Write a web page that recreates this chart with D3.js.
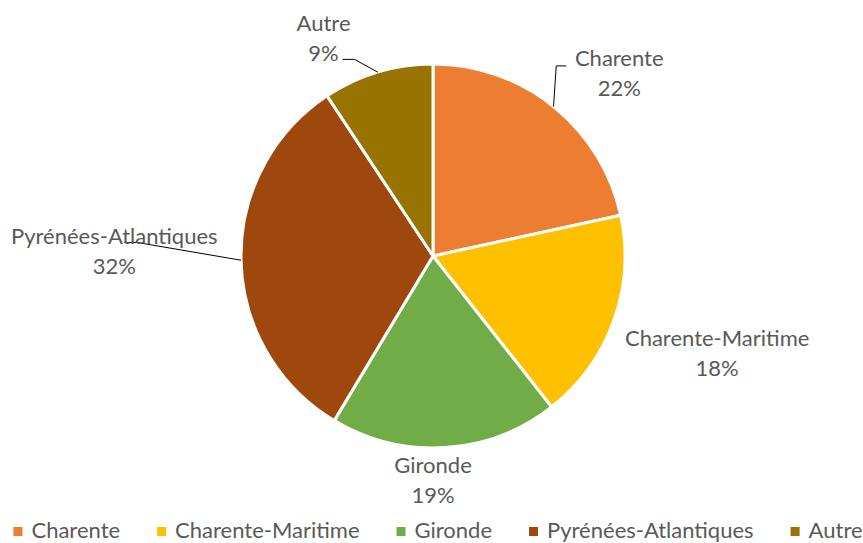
<!DOCTYPE html>
<html>
<head>
<meta charset="utf-8">
<script src="https://cdn.jsdelivr.net/npm/d3@7"></script>
<style>
  body { margin: 0; background: #fff; }
  svg { display: block; font-family: "Lato", "Open Sans", sans-serif; }
  .lbl, .leg { fill: #595959; font-size: 22px; }
</style>
</head>
<body>
<svg id="chart" width="863" height="543"></svg>
<script>
// data (shares in %, labels show them rounded)
const categories = ["Charente", "Charente-Maritime", "Gironde", "Pyrénées-Atlantiques", "Autre"];
const shares = [21.6, 17.8, 19.2, 32.1, 9.3];
const colors = ["#ED7D31", "#FFC000", "#70AD47", "#9E480E", "#997300"];

// label layout, in units of the pie radius (label centre, first baseline)
const labelPos = [[0.97, -0.99], [1.48, 0.47], [0, 1.13], [-1.66, -0.06], [-0.57, -1.17]];
// leader line: start offset from label anchor (px), horizontal run (px); null = no leader
const leaders = [[-53, 0, -10], null, null, [10, -2, 13], [19, 28, 12]];

const svg = d3.select("#chart");
const cx = 433, cy = 256, r = 192;

const pie = d3.pie().sort(null).value(d => d);
const arcs = pie(shares);
const arc = d3.arc().innerRadius(0).outerRadius(r);
const total = d3.sum(shares);

const g = svg.append("g").attr("transform", `translate(${cx},${cy})`);

g.selectAll("path.slice")
  .data(arcs)
  .enter().append("path")
  .attr("class", "slice")
  .attr("d", arc)
  .attr("fill", (d, i) => colors[i])
  .attr("stroke", "#fff")
  .attr("stroke-width", 3)
  .attr("stroke-linejoin", "round");

// leader lines
arcs.forEach((d, i) => {
  const ld = leaders[i];
  if (!ld) return;
  const mid = (d.startAngle + d.endAngle) / 2;
  const ex = r * Math.sin(mid), ey = -r * Math.cos(mid);
  const ax = labelPos[i][0] * r, ay = labelPos[i][1] * r;
  const sx = ax + ld[0], sy = ay + ld[1];
  g.append("path")
    .attr("d", d3.line()([[sx, sy], [sx + ld[2], sy], [ex, ey]]))
    .attr("fill", "none")
    .attr("stroke", "#000")
    .attr("stroke-width", 1);
});

// data labels
const labels = g.selectAll("text.lbl")
  .data(arcs)
  .enter().append("text")
  .attr("class", "lbl")
  .attr("text-anchor", "middle")
  .attr("x", (d, i) => labelPos[i][0] * r)
  .attr("y", (d, i) => labelPos[i][1] * r);
labels.append("tspan")
  .attr("x", (d, i) => labelPos[i][0] * r)
  .text((d, i) => categories[i]);
labels.append("tspan")
  .attr("x", (d, i) => labelPos[i][0] * r)
  .attr("dy", 30)
  .text(d => d3.format(".0%")(d.data / total));

// legend
const legend = svg.append("g");
let lx = 0;
categories.forEach((c, i) => {
  const item = legend.append("g").attr("transform", `translate(${lx},0)`);
  item.append("rect").attr("x", 0).attr("y", -11).attr("width", 9).attr("height", 9).attr("fill", colors[i]);
  const t = item.append("text").attr("class", "leg").attr("x", 18).attr("y", 0).text(c);
  lx += 18 + t.node().getComputedTextLength() + 37;
});
const legW = lx - 37;
legend.attr("transform", `translate(${438 - legW / 2},538)`);
</script>
</body>
</html>
